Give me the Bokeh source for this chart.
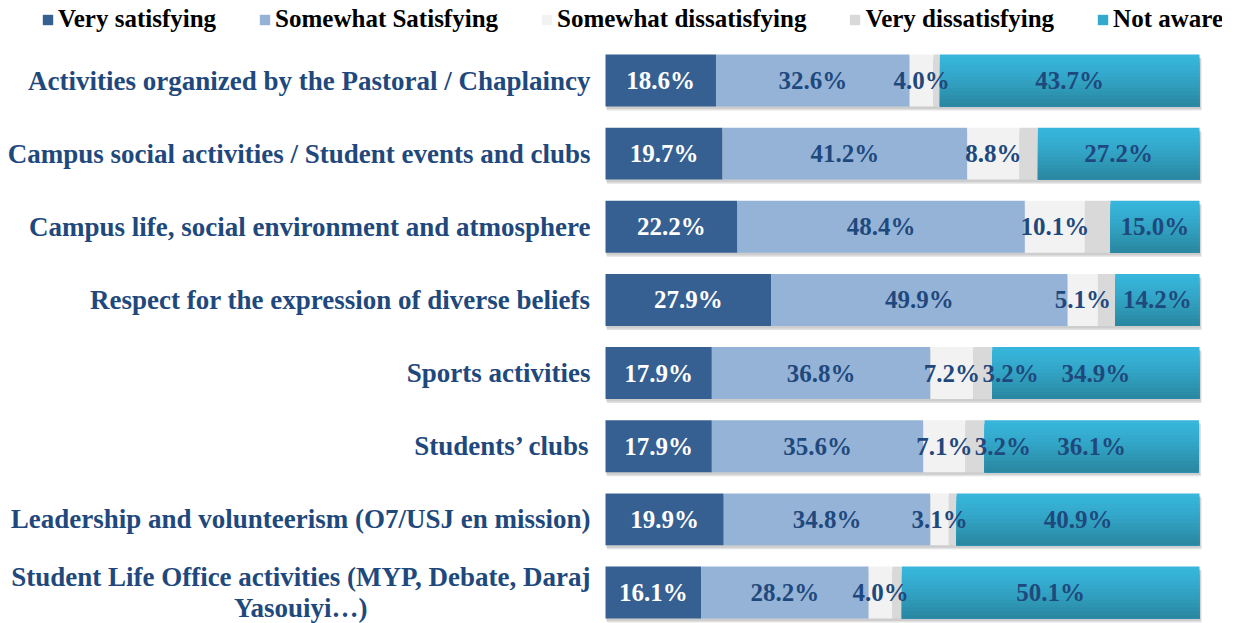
import numpy as np
from bokeh.plotting import figure
from bokeh.models import Range1d, Legend, LegendItem, ColumnDataSource
from bokeh.core.properties import value
from bokeh.embed import file_html
from bokeh.resources import INLINE

categories = [
    "Activities organized by the Pastoral / Chaplaincy",
    "Campus social activities / Student events and clubs",
    "Campus life, social environment and atmosphere",
    "Respect for the expression of diverse beliefs",
    "Sports activities",
    "Students\u2019 clubs",
    "Leadership and volunteerism (O7/USJ en mission)",
    "Student Life Office activities (MYP, Debate, Daraj\nYasouiyi\u2026)",
]
very_satisfying = [18.6, 19.7, 22.2, 27.9, 17.9, 17.9, 19.9, 16.1]
somewhat_satisfying = [32.6, 41.2, 48.4, 49.9, 36.8, 35.6, 34.8, 28.2]
somewhat_dissatisfying = [4.0, 8.8, 10.1, 5.1, 7.2, 7.1, 3.1, 4.0]
very_dissatisfying = [1.1, 3.1, 4.3, 2.9, 3.2, 3.2, 1.3, 1.6]
not_aware = [43.7, 27.2, 15.0, 14.2, 34.9, 36.1, 40.9, 50.1]
very_dissatisfying_labeled = [False, False, False, False, True, True, False, False]

series_names = ["Very satisfying", "Somewhat Satisfying", "Somewhat dissatisfying",
                "Very dissatisfying", "Not aware"]
series_colors = ["#376092", "#95B3D7", "#F2F2F2", "#D9D9D9", "#33A9CE"]
label_colors = ["white", "#1F497D", "#1F497D", "#1F497D", "#1F497D"]

FONT = "Liberation Serif"
BAR_H = 0.71

p = figure(width=1222, height=623, output_backend="svg", toolbar_location=None,
           x_range=Range1d(-101.85, 103.87), y_range=Range1d(7.424, -1.094),
           x_axis_location=None, y_axis_location=None,
           min_border_left=0, min_border_right=0, min_border_top=0, min_border_bottom=0)
p.outline_line_color = None
p.grid.visible = False
p.background_fill_color = "white"

rows = np.arange(len(categories))
series = [very_satisfying, somewhat_satisfying, somewhat_dissatisfying,
          very_dissatisfying, not_aware]
lefts = []
acc = np.zeros(len(categories))
for s in series:
    lefts.append(acc.copy())
    acc = acc + np.array(s)
totals = acc

# soft shadow under each bar
p.hbar(y=rows + 0.055, left=0.25, right=totals + 0.35, height=BAR_H,
       fill_color="#BFBFBF", fill_alpha=0.45, line_color=None)
p.hbar(y=rows + 0.035, left=0.1, right=totals + 0.2, height=BAR_H,
       fill_color="#A6A6A6", fill_alpha=0.35, line_color=None)

renderers = []
for i, s in enumerate(series[:4]):
    r = p.hbar(y=rows, left=lefts[i], right=lefts[i] + np.array(s), height=BAR_H,
               fill_color=series_colors[i], line_color=None)
    renderers.append(r)

# gradient for "Not aware": layered bands, each reaching the bar bottom
n = 14
top_c = np.array([0x37, 0xB5, 0xDA])
bot_c = np.array([0x2A, 0x88, 0xA3])
na_left = lefts[4]
na_right = lefts[4] + np.array(not_aware)
bar_bottom = rows + BAR_H / 2
for k in range(n):
    t = k / (n - 1)
    t2 = t ** 1.3
    c = (top_c * (1 - t2) + bot_c * t2).astype(int)
    col = "#%02X%02X%02X" % tuple(c)
    band_top = rows - BAR_H / 2 + k * BAR_H / n
    p.hbar(y=(band_top + bar_bottom) / 2, left=na_left, right=na_right,
           height=BAR_H - k * BAR_H / n, fill_color=col, line_color=None)

# legend proxy for "Not aware" (zero-size, invisible)
na_legend = p.hbar(y=rows, left=na_left, right=na_left, height=0.0,
                   fill_color="#33A9CE", line_color=None)
renderers.append(na_legend)

# value labels
for i, s in enumerate(series):
    xs, ys, txt = [], [], []
    for j, v in enumerate(s):
        if i == 3 and not very_dissatisfying_labeled[j]:
            continue
        xs.append(lefts[i][j] + v / 2)
        ys.append(rows[j])
        txt.append(f"{v:.1f}%")
    src = ColumnDataSource(dict(x=xs, y=ys, t=txt))
    p.text(x="x", y="y", text="t", source=src, text_align="center",
           text_baseline="middle", text_font=value(FONT), text_font_style="bold",
           text_font_size="25px", text_color=label_colors[i],
           x_offset=28 if i == 3 else 0)

# category labels
cat_src = ColumnDataSource(dict(x=[0] * len(categories), y=list(rows), t=categories))
p.text(x="x", y="y", text="t", source=cat_src, anchor="center_right",
       text_align="center", text_baseline="middle", x_offset=-15,
       text_font=value(FONT), text_font_style="bold", text_font_size="27px",
       text_color="#1F497D", text_line_height=1.05)

legend = Legend(items=[LegendItem(label=nm, renderers=[r]) for nm, r in zip(series_names, renderers)],
                orientation="horizontal", location=(41, 590),
                glyph_width=13, glyph_height=13, label_standoff=4, spacing=42,
                padding=0, margin=0, border_line_color=None, background_fill_alpha=0,
                label_text_font=FONT, label_text_font_style="bold",
                label_text_font_size="25px", label_text_color="black")
p.add_layout(legend, "center")

open("out.html", "w").write(file_html(p, INLINE))
